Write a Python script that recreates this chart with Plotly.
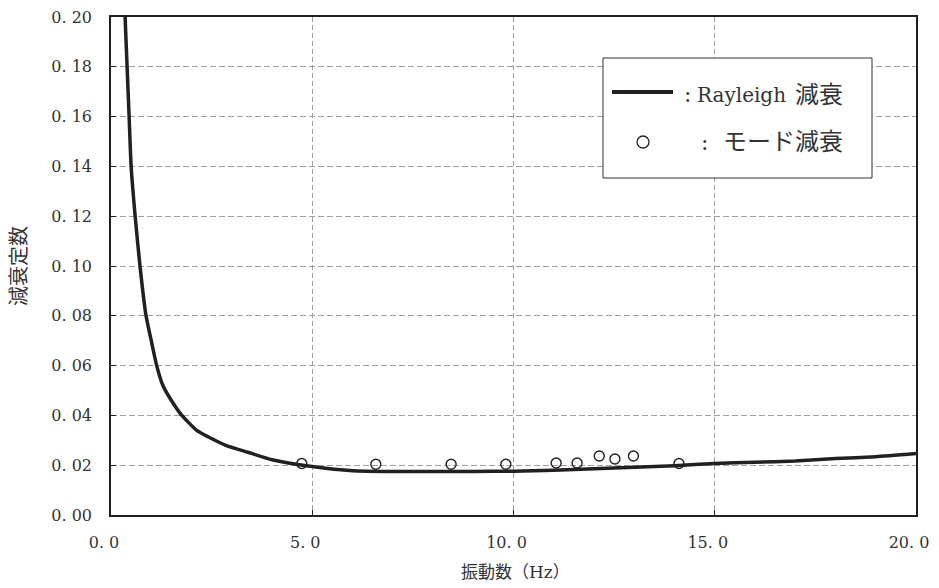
import plotly.graph_objects as go

# Rayleigh damping curve
rayleigh_freq = [0.35, 0.40, 0.45, 0.50, 0.60, 0.72, 0.87, 1.00, 1.135, 1.29, 1.50, 1.76,
                 2.13, 2.46, 2.85, 3.40, 4.00, 5.00, 6.00, 7.00, 8.00, 9.00, 10.00, 11.00, 12.00,
                 13.00, 14.00, 15.00, 16.00, 17.00, 18.00, 19.00, 20.00]
rayleigh_h = [0.200, 0.180, 0.160, 0.140, 0.120, 0.100, 0.080, 0.070, 0.060, 0.052, 0.046, 0.040,
              0.034, 0.031, 0.028, 0.0252, 0.0222, 0.0195, 0.0178, 0.0175, 0.0175, 0.0175, 0.0176,
              0.0180, 0.0186, 0.0192, 0.0198, 0.0207, 0.0212, 0.0217, 0.0227, 0.0234, 0.0247]

# Modal damping points
mode_freq = [4.74, 6.58, 8.45, 9.81, 11.06, 11.58, 12.13, 12.52, 12.98, 14.11]
mode_h = [0.0207, 0.0204, 0.0204, 0.0204, 0.0209, 0.0209, 0.0237, 0.0225, 0.0237, 0.0207]

y_ticks = [0.00, 0.02, 0.04, 0.06, 0.08, 0.10, 0.12, 0.14, 0.16, 0.18, 0.20]
y_ticktext = ["0. 00", "0. 02", "0. 04", "0. 06", "0. 08", "0. 10", "0. 12", "0. 14", "0. 16", "0. 18", "0. 20"]
x_ticks = [0, 5, 10, 15, 20]
x_ticktext = ["0. 0", "5. 0", "10. 0", "15. 0", "20. 0"]

FONT = "DejaVu Serif, Noto Sans CJK JP, serif"
INK = "#231f20"
TXT = "#333333"

# page body margin offset (px) – figure is drawn 8px in from the window corner
OFF = 8
W, H = 939 - OFF - 4, 588 - OFF - 4
# plot area in window pixels
PX0, PX1, PY0, PY1 = 111, 916, 17, 515
L = PX0 - OFF
T = PY0 - OFF
R = W - (PX1 - OFF)
B = H - (PY1 - OFF)
pw, ph = PX1 - PX0, PY1 - PY0


def px(x):
    return (x - PX0) / pw


def py(y):
    return (PY1 - y) / ph


fig = go.Figure()
fig.add_trace(go.Scatter(x=rayleigh_freq, y=rayleigh_h, mode="lines",
                         line=dict(color=INK, width=3.5, shape="spline", smoothing=0.5),
                         showlegend=False, name="Rayleigh 減衰"))
fig.add_trace(go.Scatter(x=mode_freq, y=mode_h, mode="markers",
                         marker=dict(symbol="circle-open", size=10, color=INK,
                                     line=dict(width=1.4, color=INK)),
                         showlegend=False, name="モード減衰"))

fig.update_layout(
    width=W, height=H,
    margin=dict(l=L, r=R, t=T, b=B, pad=0),
    paper_bgcolor="white", plot_bgcolor="white",
    font=dict(family=FONT, size=16, color=TXT),
    xaxis=dict(range=[0, 20], tickvals=x_ticks, ticktext=x_ticktext,
               showline=True, linecolor=INK, linewidth=1.5, mirror=True,
               ticks="inside", ticklen=5, tickcolor=INK, tickwidth=1,
               showgrid=True, gridcolor="#a0a0a0", gridwidth=1, griddash="5px,3px",
               zeroline=False, automargin=False, ticklabeloverflow="allow",
               tickfont=dict(family=FONT, size=16, color=TXT),
               ticklabelstandoff=12, ticklabelshift=-7),
    yaxis=dict(range=[0, 0.2], tickvals=y_ticks, ticktext=y_ticktext,
               showline=True, linecolor=INK, linewidth=1.5, mirror=True,
               ticks="inside", ticklen=5, tickcolor=INK, tickwidth=1,
               showgrid=True, gridcolor="#a0a0a0", gridwidth=1, griddash="6px,3px",
               zeroline=False, automargin=False, ticklabeloverflow="allow",
               tickfont=dict(family=FONT, size=16, color=TXT),
               ticklabelstandoff=14),
)

# Axis titles
fig.add_annotation(text="減衰定数", xref="paper", yref="paper", x=px(19), y=0.5,
                   textangle=-90, showarrow=False, xanchor="center", yanchor="middle",
                   font=dict(family=FONT, size=20, color=TXT))
fig.add_annotation(text="振動数（Hz）", xref="paper", yref="paper", x=px(516), y=py(572),
                   showarrow=False, xanchor="center", yanchor="middle",
                   font=dict(family=FONT, size=17, color=TXT))

# Legend box
fig.add_shape(type="rect", xref="paper", yref="paper", x0=px(603), x1=px(872), y0=py(178), y1=py(58),
              line=dict(color=TXT, width=1), fillcolor="white", layer="above")
fig.add_shape(type="line", xref="paper", yref="paper", x0=px(612), x1=px(673), y0=py(92), y1=py(92),
              line=dict(color=INK, width=4), layer="above")
fig.add_shape(type="circle", xref="paper", yref="paper", x0=px(637), x1=px(649), y0=py(148), y1=py(136),
              line=dict(color=INK, width=1.3), fillcolor="white", layer="above")
legend_texts = [
    (":", 682, 95, "left", 22),
    ("Rayleigh", 695, 95, "left", 20),
    ("減衰", 845, 95, "right", 24),
    (":", 699, 142, "left", 22),
    ("モード減衰", 845, 142, "right", 24),
]
for txt, x, y, anc, sz in legend_texts:
    fig.add_annotation(text=txt, xref="paper", yref="paper", x=px(x), y=py(y),
                       showarrow=False, xanchor=anc, yanchor="middle",
                       font=dict(family=FONT, size=sz, color=TXT))

fig.write_html("out.html")
